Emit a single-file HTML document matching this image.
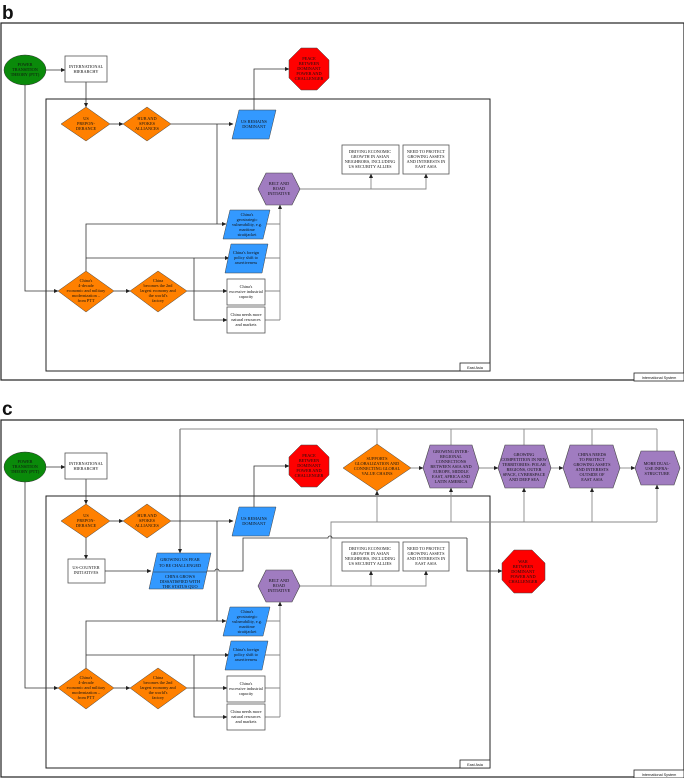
<!DOCTYPE html>
<html><head><meta charset="utf-8"><style>
html,body{margin:0;padding:0;background:#fff;}
svg{display:block;}
text{font-family:"Liberation Serif",serif;font-size:4.3px;fill:#111;text-anchor:middle;}
.lb{font-family:"Liberation Sans",sans-serif;font-weight:bold;font-size:19px;text-anchor:start;}
.sm{font-family:"Liberation Sans",sans-serif;font-size:3.8px;}
.k{fill:none;stroke:#333;stroke-width:0.8;}
.g{fill:none;stroke:#888;stroke-width:0.9;}
.a{marker-end:url(#ar);}
.bx{fill:#fff;stroke:#555;stroke-width:0.8;}
.or{fill:#ff8000;stroke:#444;stroke-width:0.5;}
.bl{fill:#3399ff;stroke:#444;stroke-width:0.5;}
.pu{fill:#a07cc0;stroke:#444;stroke-width:0.6;}
.rd{fill:#ff0000;stroke:#444;stroke-width:0.5;}
</style></head><body>
<svg width="684" height="778" viewBox="0 0 684 778" xmlns="http://www.w3.org/2000/svg">
<defs>
<marker id="ar" markerWidth="5" markerHeight="5" refX="4" refY="2.5" orient="auto" markerUnits="userSpaceOnUse"><path d="M0,0.5 L4.5,2.5 L0,4.5z" fill="#222"/></marker>
<g id="base">
<text class="lb" x="2" y="19">b</text>
<rect x="1" y="23" width="683" height="357" fill="none" stroke="#222" stroke-width="1.2"/>
<rect x="46" y="99" width="444" height="272" fill="none" stroke="#222" stroke-width="1"/>
<rect x="460" y="363" width="30" height="8" fill="#fff" stroke="#222" stroke-width="0.8"/>
<text class="sm" x="475" y="369">East Asia</text>
<rect x="634" y="373" width="50" height="8" fill="#fff" stroke="#222" stroke-width="0.8"/>
<text class="sm" x="659" y="379">International System</text>
<!-- connectors -->
<path class="k a" d="M46 70 H65"/>
<path class="k a" d="M25 85 V291 H58"/>
<path class="k a" d="M86 82 V107"/>
<path class="k a" d="M110 124 H123"/>
<path class="k a" d="M171 124 H233"/>
<path class="k" d="M217 124 V224"/>
<path class="k a" d="M254 110 V69 H289"/>
<path class="k a" d="M86 271 V224 H226"/>
<path class="k a" d="M86 258 H229"/>
<path class="k a" d="M114 291 H130"/>
<path class="k a" d="M187 291 H227"/>
<path class="k a" d="M194 258 V320 H227"/>
<path class="g" d="M266 224 H280 M264 258 H280 M265 291 H280 M265 320 H280"/>
<path class="g a" d="M280 320 V205"/>
<path class="g a" d="M300 189 H426 V174"/>
<path class="g a" d="M371 189 V174"/>
<!-- nodes -->
<ellipse cx="25" cy="70" rx="21" ry="15" fill="#0a8a0a" stroke="#333" stroke-width="0.5"/>
<text x="25" y="66">POWER</text><text x="25" y="71">TRANSITION</text><text x="25" y="76">THEORY (PTT)</text>
<rect class="bx" x="65" y="56" width="42" height="26"/>
<text x="86" y="68">INTERNATIONAL</text><text x="86" y="73">HIERARCHY</text>
<polygon class="or" points="86,107 110,124 86,141 61,124"/>
<text x="86" y="120">US</text><text x="86" y="125">PREPON-</text><text x="86" y="130">DERANCE</text>
<polygon class="or" points="147,107 171,124 147,141 123,124"/>
<text x="147" y="120">HUB AND</text><text x="147" y="125">SPOKES</text><text x="147" y="130">ALLIANCES</text>
<polygon class="bl" points="239,110 276,110 269,139 232,139"/>
<text x="254" y="123">US REMAINS</text><text x="254" y="128">DOMINANT</text>
<polygon class="rd" points="301,48 317,48 329,60 329,78 317,90 301,90 289,78 289,60"/>
<text x="309" y="60">PEACE</text><text x="309" y="65">BETWEEN</text><text x="309" y="70">DOMINANT</text><text x="309" y="75">POWER AND</text><text x="309" y="80">CHALLENGER</text>
<polygon class="pu" points="258,189 266,173 292,173 300,189 292,205 266,205"/>
<text x="279" y="185">BELT AND</text><text x="279" y="190">ROAD</text><text x="279" y="195">INITIATIVE</text>
<rect class="bx" x="342" y="145" width="57" height="29"/>
<text x="370" y="153">DRIVING ECONOMIC</text><text x="370" y="158">GROWTH IN ASIAN</text><text x="370" y="163">NEIGHBORS, INCLUDING</text><text x="370" y="168">US SECURITY ALLIES</text>
<rect class="bx" x="403" y="145" width="46" height="29"/>
<text x="426" y="153">NEED TO PROTECT</text><text x="426" y="158">GROWING ASSETS</text><text x="426" y="163">AND INTERESTS IN</text><text x="426" y="168">EAST ASIA</text>
<polygon class="bl" points="230,210 270,210 263,239 223,239"/>
<text x="247" y="216">China's</text><text x="247" y="221">geostrategic</text><text x="247" y="226">vulnerability, e.g.</text><text x="247" y="231">maritime</text><text x="247" y="236">straitjacket</text>
<polygon class="bl" points="231,244 268,244 262,273 225,273"/>
<text x="246" y="254">China's foreign</text><text x="246" y="259">policy shift to</text><text x="246" y="264">assertiveness</text>
<rect class="bx" x="227" y="279" width="38" height="26"/>
<text x="246" y="288">China's</text><text x="246" y="293">excessive industrial</text><text x="246" y="298">capacity</text>
<rect class="bx" x="227" y="307" width="38" height="26"/>
<text x="246" y="316">China needs more</text><text x="246" y="321">natural resources</text><text x="246" y="326">and markets</text>
<polygon class="or" points="86,271 114,291 86,312 58,291"/>
<text x="86" y="282">China's</text><text x="86" y="287">4-decade</text><text x="86" y="292">economic and military</text><text x="86" y="297">modernization –</text><text x="86" y="302">from PTT</text>
<polygon class="or" points="158,271 187,291 158,312 130,291"/>
<text x="158" y="282">China</text><text x="158" y="287">becomes the 2nd</text><text x="158" y="292">largest economy and</text><text x="158" y="297">the world's</text><text x="158" y="302">factory</text>
</g>
</defs>
<use href="#base"/>
<g transform="translate(0,397)"><use href="#base"/></g>
<!-- overwrite 'b' label in panel c -->
<rect x="0" y="398" width="20" height="20" fill="#fff"/>
<text class="lb" x="2" y="415">c</text>
<!-- panel c extras -->
<path class="k a" d="M86 538 V559"/>
<rect class="bx" x="68" y="559" width="37" height="24"/>
<text x="86" y="569">US-COUNTER</text><text x="86" y="574">INITIATIVES</text>
<path class="k a" d="M105 571 H151"/>
<path class="k a" d="M180 429 V553"/>
<path class="g" d="M180 429 H657 M377 429 V444 M451 429 V445 M524 429 V445 M592 429 V445 M657 429 V451"/>
<path class="g" d="M331 586 V522 H657"/>
<path class="g a" d="M377 522 V491"/><path class="g a" d="M451 522 V488"/><path class="g a" d="M524 522 V488"/><path class="g a" d="M592 522 V488"/><path class="g a" d="M657 522 V485"/>
<path class="g a" d="M411 468 H423"/><path class="g a" d="M479 468 H498"/><path class="g a" d="M551 468 H563"/><path class="g a" d="M620 468 H635"/>
<path class="k" d="M206 571 H215 a2 2 0 0 1 4 0 H243 V538 H328 a2 2 0 0 1 4 0 H467"/>
<path class="k a" d="M467 538 V571 H502"/>
<polygon class="bl" points="157,553 211,553 203,589 149,589"/>
<line x1="153" y1="572" x2="207" y2="572" stroke="#333" stroke-width="0.5"/>
<text x="180" y="561">GROWING US FEAR</text><text x="180" y="567">TO BE CHALLENGED</text>
<text x="180" y="578">CHINA GROWS</text><text x="180" y="583">DISSATISFIED WITH</text><text x="180" y="588">THE STATUS QUO</text>
<polygon class="rd" points="514,550 532,550 545,563 545,580 532,593 514,593 502,580 502,563"/>
<text x="523" y="563">WAR</text><text x="523" y="568">BETWEEN</text><text x="523" y="573">DOMINANT</text><text x="523" y="578">POWER AND</text><text x="523" y="583">CHALLENGER</text>
<polygon class="or" points="377,444 411,468 377,491 343,468"/>
<text x="377" y="460">SUPPORTS</text><text x="377" y="465">GLOBALIZATION AND</text><text x="377" y="470">CONNECTING GLOBAL</text><text x="377" y="475">VALUE CHAINS</text>
<polygon class="pu" points="423,468 430,445 472,445 479,468 472,488 430,488"/>
<text x="451" y="453">GROWING INTER-</text><text x="451" y="458">REGIONAL</text><text x="451" y="463">CONNECTIONS</text><text x="451" y="468">BETWEEN ASIA AND</text><text x="451" y="473">EUROPE, MIDDLE</text><text x="451" y="478">EAST, AFRICA AND</text><text x="451" y="483">LATIN AMERICA</text>
<polygon class="pu" points="498,468 505,445 544,445 551,468 544,488 505,488"/>
<text x="524" y="456">GROWING</text><text x="524" y="461">COMPETITION IN NEW</text><text x="524" y="466">TERRITORIES: POLAR</text><text x="524" y="471">REGIONS, OUTER</text><text x="524" y="476">SPACE, CYBERSPACE</text><text x="524" y="481">AND DEEP SEA</text>
<polygon class="pu" points="563,468 570,445 613,445 620,468 613,488 570,488"/>
<text x="592" y="456">CHINA NEEDS</text><text x="592" y="461">TO PROTECT</text><text x="592" y="466">GROWING ASSETS</text><text x="592" y="471">AND INTERESTS</text><text x="592" y="476">OUTSIDE OF</text><text x="592" y="481">EAST ASIA</text>
<polygon class="pu" points="635,468 641,451 674,451 680,468 674,485 641,485"/>
<text x="657" y="465">MORE DUAL-</text><text x="657" y="470">USE INFRA-</text><text x="657" y="475">STRUCTURE</text>
</svg>
</body></html>
